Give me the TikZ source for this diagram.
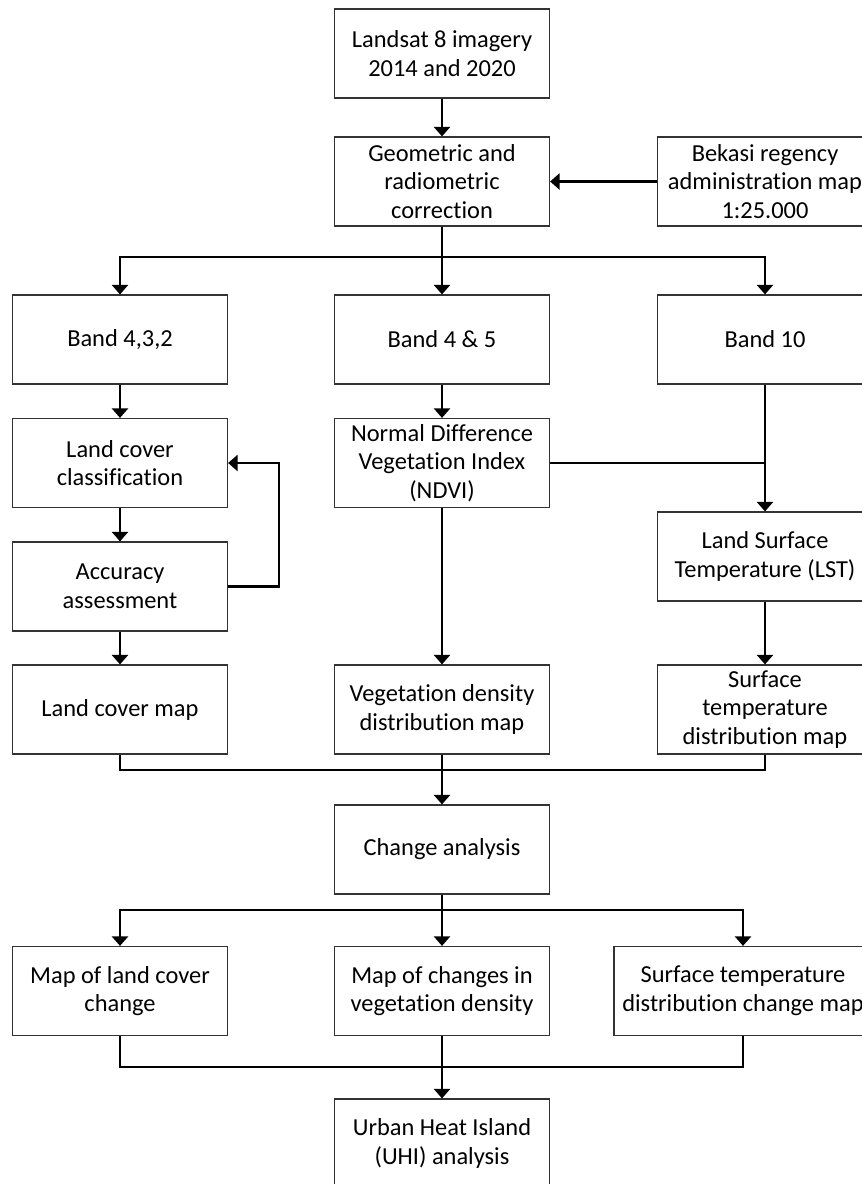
\documentclass[tikz,border=0pt]{standalone}
\usepackage{fontspec}
\setmainfont{Carlito}[Ligatures=NoCommon]
\usetikzlibrary{arrows.meta, positioning, calc}

\begin{document}
\begin{tikzpicture}[x=0.02cm, y=-0.02cm,
  font=\fontsize{13.9}{16.3}\selectfont,
  box/.style={rectangle, draw=black!80, line width=0.7pt, minimum width=4.3cm, minimum height=1.78cm, align=center, inner sep=1pt},
  widebox/.style={box, minimum width=5.16cm},
  arrow/.style={line width=1.5pt, -{Triangle[width=0.32cm, length=0.19cm]}},
  link/.style={line width=1.5pt}]

\useasboundingbox (0,0) rectangle (862,1184);

\node[box] (landsat) at (442,53.5) {Landsat 8 imagery \\ 2014 and 2020};
\node[box] (geo) at (442,181.5) {Geometric and \\ radiometric \\ correction};
\node[box] (bekasi) at (765,181.5) {Bekasi regency \\ administration map \\ 1:25.000};

\node[box] (band432) at (120,339.5) {Band 4,3,2};
\node[box] (band45) at (442,339.5) {Band 4 \& 5};
\node[box] (band10) at (765,339.5) {Band 10};

\node[box] (lcc) at (120,463) {Land cover \\ classification};
\node[box] (ndvi) at (442,463) {Normal Difference \\ Vegetation Index \\ (NDVI)};
\node[box] (accuracy) at (120,586.5) {Accuracy \\ assessment};
\node[box] (lst) at (765,556.5) {Land Surface \\ Temperature (LST)};

\node[box] (lcmap) at (120,709.5) {Land cover map};
\node[box] (vegmap) at (442,709.5) {Vegetation density \\ distribution map};
\node[box] (stmap) at (765,709.5) {Surface \\ temperature \\ distribution map};

\node[box] (change) at (442,849.5) {Change analysis};

\node[box] (lcchange) at (120,991) {Map of land cover \\ change};
\node[box] (vegchange) at (442,991) {Map of changes in \\ vegetation density};
\node[widebox] (stchange) at (743,991) {Surface temperature \\ distribution change map};

\node[box] (uhi) at (442,1143.5) {Urban Heat Island \\ (UHI) analysis};

\coordinate (split1) at (442,257);
\coordinate (merge1) at (442,770);
\coordinate (split2) at (442,910);
\coordinate (merge2) at (442,1067);

\draw[arrow] (landsat) -- (geo);
\draw[arrow] (bekasi) -- (geo);
\draw[arrow] (geo) -- (band45);
\draw[arrow] (split1) -| (band432.north);
\draw[arrow] (split1) -| (band10.north);

\draw[arrow] (band432) -- (lcc);
\draw[arrow] (lcc) -- (accuracy);
\draw[arrow] (accuracy) -- (lcmap);
\draw[arrow] (accuracy.east) -- ++(51,0) |- (lcc.east);

\draw[arrow] (band45) -- (ndvi);
\draw[arrow] (ndvi) -- (vegmap);
\draw[link] (ndvi.east) -- (ndvi.east -| band10.south);
\draw[arrow] (band10) -- (lst);
\draw[arrow] (lst) -- (stmap);

\draw[link] (lcmap.south) |- (merge1) -| (stmap.south);
\draw[arrow] (vegmap) -- (change);

\draw[arrow] (change) -- (vegchange);
\draw[arrow] (split2) -| (lcchange.north);
\draw[arrow] (split2) -| (stchange.north);

\draw[link] (lcchange.south) |- (merge2) -| (stchange.south);
\draw[arrow] (vegchange) -- (uhi);

\end{tikzpicture}
\end{document}
